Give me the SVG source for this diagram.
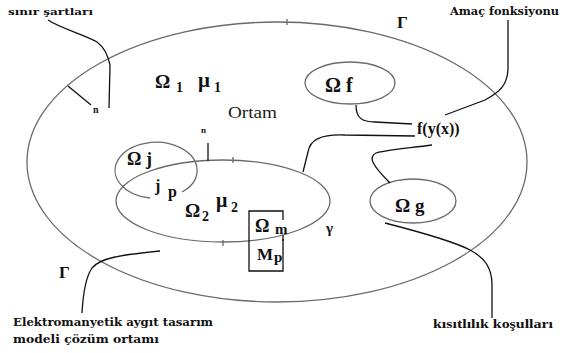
<svg xmlns="http://www.w3.org/2000/svg" width="563" height="353" viewBox="0 0 563 353">
<style>
.sh{fill:none;stroke:#6a6a6a;stroke-width:1.3}
.ln{fill:none;stroke:#111;stroke-width:1.3}
.t{font-family:"Liberation Serif",serif;font-weight:bold;fill:#111}
.d{font-family:"DejaVu Serif","Liberation Serif",serif;font-weight:bold;fill:#111}
.n{font-family:"Liberation Serif",serif;fill:#222}
</style>
<rect width="563" height="353" fill="#fff"/>
<g id="outer">
<ellipse class="sh" cx="277" cy="162" rx="250" ry="140"/>
<line class="sh" x1="287" y1="19" x2="287" y2="25"/>
<text class="t" x="397" y="28" font-size="17">Γ</text>
<text class="t" x="59" y="278" font-size="17">Γ</text>
<text class="t" x="155" y="88" font-size="19">Ω</text>
<text class="t" x="176" y="92" font-size="14">1</text>
<text class="t" x="198" y="87" font-size="21">μ</text>
<text class="t" x="214" y="92" font-size="14">1</text>
<text class="n" x="228" y="118" font-size="17" textLength="49" lengthAdjust="spacingAndGlyphs">Ortam</text>
<line class="ln" x1="68" y1="86" x2="91" y2="105"/>
<text class="t" x="93" y="113" font-size="10">n</text>
</g>
<g id="omega2">
<ellipse class="sh" cx="223" cy="201" rx="107" ry="41"/>
<line class="ln" x1="208" y1="143" x2="208" y2="161"/>
<text class="t" x="201" y="133" font-size="9">n</text>
<line class="sh" x1="233" y1="157" x2="233" y2="163"/>
<line class="sh" x1="223" y1="240" x2="223" y2="246"/>
<text class="t" x="185" y="217" font-size="19">Ω</text>
<text class="t" x="202" y="221" font-size="14">2</text>
<text class="t" x="216" y="207" font-size="20">μ</text>
<text class="t" x="231" y="212" font-size="14">2</text>
<text class="t" x="326" y="233" font-size="15">γ</text>
</g>
<g id="omegaj">
<path class="sh" d="M150,198 A41,28 0 1 1 182,192"/>
<text class="t" x="127" y="165" font-size="18">Ω j</text>
<text class="t" x="155" y="191" font-size="16">j</text>
<text class="t" x="168" y="197" font-size="16">p</text>
</g>
<g id="omegam">
<path class="ln" d="M283,239 V271 H249 V211 H283 V220" stroke-width="1"/>
<line class="ln" x1="283" y1="235" x2="283" y2="241" stroke-width="1"/>
<text class="t" x="255" y="232" font-size="18">Ω</text>
<text class="t" x="275" y="234" font-size="15">m</text>
<text class="t" x="257" y="260" font-size="17">M</text>
<text class="t" x="274" y="262" font-size="15">p</text>
</g>
<g id="omegaf">
<ellipse class="sh" cx="350" cy="83" rx="45" ry="21"/>
<text class="t" x="325" y="92" font-size="20">Ω f</text>
</g>
<g id="omegag">
<ellipse class="sh" cx="413" cy="201" rx="43" ry="22"/>
<text class="t" x="395" y="212" font-size="19">Ω g</text>
</g>
<g id="fyx">
<text class="t" x="417" y="134" font-size="16">f(y(x))</text>
</g>
<g id="labels">
<text class="d" x="8" y="15" font-size="10" textLength="85" lengthAdjust="spacingAndGlyphs">sınır şartları</text>
<text class="d" x="450" y="15" font-size="10.5" textLength="109" lengthAdjust="spacingAndGlyphs">Amaç fonksiyonu</text>
<text class="t" x="433" y="328" font-size="11.5" textLength="120" lengthAdjust="spacingAndGlyphs">kısıtlılık koşulları</text>
<text class="d" x="13" y="326" font-size="11" textLength="200" lengthAdjust="spacingAndGlyphs">Elektromanyetik aygıt tasarım</text>
<text class="d" x="13" y="343" font-size="11" textLength="146" lengthAdjust="spacingAndGlyphs">modeli  çözüm ortamı</text>
</g>
<g id="connectors">
<path class="ln" d="M48,20 C60,28 85,35 97,42 C105,48 108,55 110,65 L109,108"/>
<path class="ln" d="M508,20 L508,70 C507,85 500,92 485,100 L445,115"/>
<path class="ln" d="M356,105 C356,118 362,122 375,122 L412,124"/>
<path class="ln" d="M415,136 L345,135 C320,134 310,140 308,152 L303,172"/>
<path class="ln" d="M432,145 C410,148 385,150 376,153 C368,157 372,165 390,183"/>
<path class="ln" d="M385,223 C420,232 455,242 470,250 C485,258 492,268 492,285 L492,318"/>
<path class="ln" d="M160,251 C120,255 100,258 92,268 C85,278 83,295 82,313"/>
</g>
</svg>
